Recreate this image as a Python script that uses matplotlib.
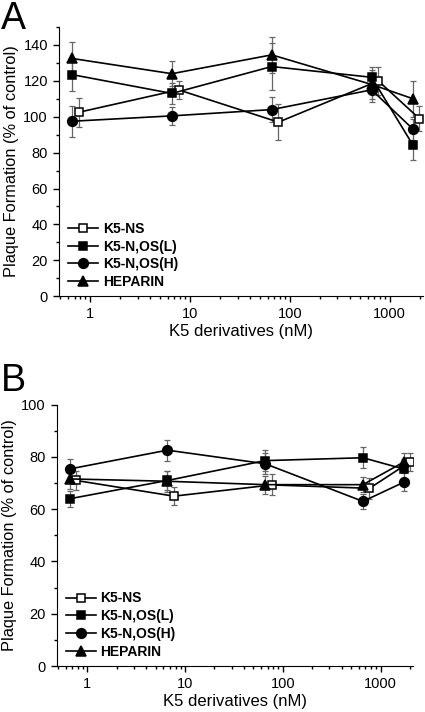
import numpy as np
import matplotlib.pyplot as plt
from matplotlib.ticker import LogLocator, NullFormatter, MultipleLocator

plt.rcParams['font.family'] = ['Liberation Sans', 'DejaVu Sans']

# concentrations (nM); open squares are drawn slightly shifted right
x_filled = [0.66, 6.6, 66, 660, 1720]
x_open = [0.77, 7.7, 77, 770, 1980]

names = ['K5-NS', 'K5-N,OS(L)', 'K5-N,OS(H)', 'HEPARIN']

# panel A
a_ns = [102.5, 115, 97, 120, 99]
a_ns_err = [8, 5, 10, 8, 7]
a_L = [123.5, 113, 128, 122, 84]
a_L_err = [9, 6, 13, 6, 8]
a_H = [97.5, 100.5, 104, 115, 93]
a_H_err = [8.5, 5, 7, 7, 6]
a_hep = [132.5, 124, 134.5, 118, 110]
a_hep_err = [9, 7, 10, 8, 10]

# panel B
b_ns = [71, 65, 69.3, 68, 78]
b_ns_err = [3.5, 3.5, 4, 4, 3.5]
b_L = [64, 71, 78.6, 79.7, 75.4]
b_L_err = [3, 3.5, 4, 4, 4]
b_H = [75.4, 82.6, 77.4, 63, 70.3]
b_H_err = [4, 4, 4, 3, 3.5]
b_hep = [71.6, 70.7, 69.4, 69.4, 78]
b_hep_err = [4, 4, 3.5, 3, 3.5]

styles = [
    dict(marker='s', mfc='white', ms=6),
    dict(marker='s', mfc='black', ms=6),
    dict(marker='o', mfc='black', ms=7),
    dict(marker='^', mfc='black', ms=7.5),
]


def draw(ax, series, errs, ymax, step):
    xs = [x_open, x_filled, x_filled, x_filled]
    for i in [3, 2, 1, 0]:
        ax.errorbar(xs[i], series[i], yerr=errs[i], fmt='none', ecolor='#666666',
                    elinewidth=0.9, capsize=2.5, capthick=0.9, zorder=2)
    handles = []
    for i in range(4):
        h, = ax.plot(xs[i], series[i], color='black', lw=1.2, mec='black',
                     mew=1.1, label=names[i], zorder=3 + i, **styles[i])
        handles.append(h)
    ax.set_xscale('log')
    ax.set_xlim(0.49, 2150)
    ax.set_ylim(0, ymax)
    ax.yaxis.set_major_locator(MultipleLocator(step))
    ax.yaxis.set_minor_locator(MultipleLocator(step / 2))
    ax.xaxis.set_minor_locator(LogLocator(base=10, subs=np.arange(2, 10), numticks=20))
    ax.xaxis.set_minor_formatter(NullFormatter())
    ax.set_xticks([1, 10, 100, 1000])
    ax.set_xticklabels(['1', '10', '100', '1000'])
    for s in ['top', 'right']:
        ax.spines[s].set_visible(False)
    ax.tick_params(which='major', length=4, width=1, labelsize=10.5, pad=4)
    ax.tick_params(which='minor', length=2.5, width=1)
    ax.set_xlabel('K5 derivatives (nM)', fontsize=12, labelpad=2)
    ax.set_ylabel('Plaque Formation (% of control)', fontsize=11.8, labelpad=3)
    ax.legend(handles=handles, loc='lower left', bbox_to_anchor=(-0.01, -0.02),
              frameon=False, handlelength=2.2, handletextpad=0.3,
              labelspacing=0.27, prop={'weight': 'bold', 'size': 10})


fig = plt.figure(figsize=(4.25, 7.12), dpi=100)

ax1 = fig.add_axes([0.139, 0.584, 0.856, 0.378])
draw(ax1, [a_ns, a_L, a_H, a_hep], [a_ns_err, a_L_err, a_H_err, a_hep_err], 150, 20)
fig.text(0.003, 0.998, 'A', fontsize=27, ha='left', va='top')

ax2 = fig.add_axes([0.134, 0.0646, 0.838, 0.367])
draw(ax2, [b_ns, b_L, b_H, b_hep], [b_ns_err, b_L_err, b_H_err, b_hep_err], 100, 20)
fig.text(0.003, 0.49, 'B', fontsize=27, ha='left', va='top')

fig.savefig('out.png', dpi=100)
